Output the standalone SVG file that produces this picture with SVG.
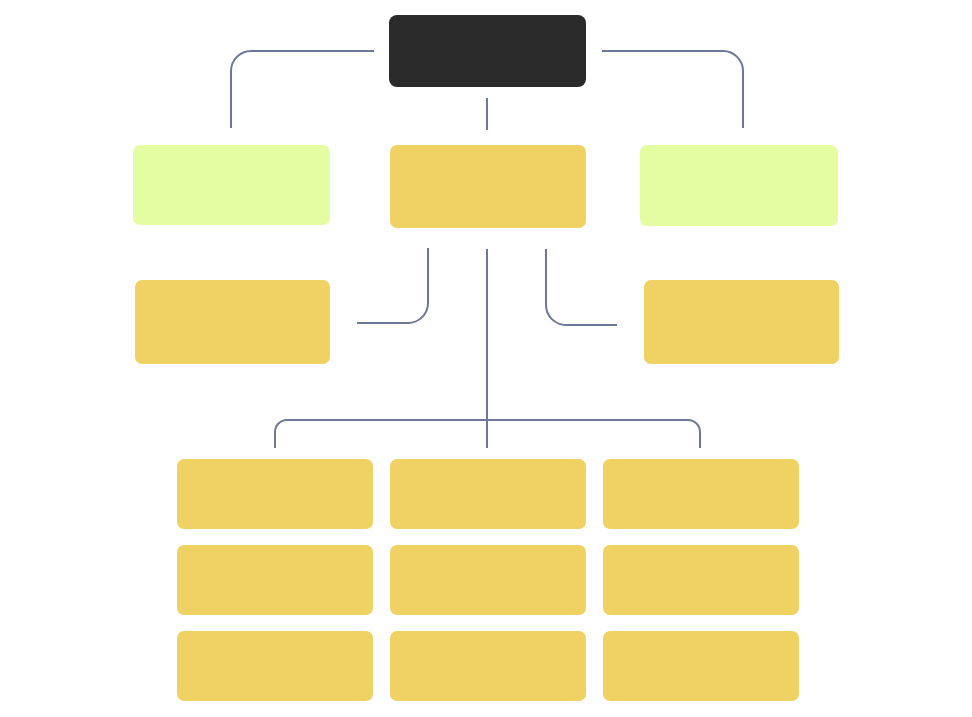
<svg xmlns="http://www.w3.org/2000/svg" width="972" height="717" viewBox="0 0 972 717">
<style>
.y{fill:#f0d264}
.g{fill:#e4fca2}
.d{fill:#2a2a2a}
.c{fill:none;stroke:#6b7898;stroke-width:2}
</style>
<rect width="972" height="717" fill="#ffffff"/>
<g id="connectors">
<path class="c" d="M374 51 H251 A20 20 0 0 0 231 71 V128"/>
<path class="c" d="M602 51 H723 A20 20 0 0 1 743 71 V128"/>
<path class="c" d="M487 98 V130"/>
<path class="c" d="M428 248 V303 A20 20 0 0 1 408 323 H357"/>
<path class="c" d="M546 249 V305 A20 20 0 0 0 566 325 H617"/>
<path class="c" d="M487 249 V448"/>
<path class="c" d="M275 448 V432 A12 12 0 0 1 287 420 H688 A12 12 0 0 1 700 432 V448"/>
</g>
<g id="root"><rect class="d" x="389" y="15" width="197" height="72" rx="8"/></g>
<g id="n-left"><rect class="g" x="133" y="145" width="197" height="80" rx="7"/></g>
<g id="n-center"><rect class="y" x="390" y="145" width="196" height="83" rx="7"/></g>
<g id="n-right"><rect class="g" x="640" y="145" width="198" height="81" rx="7"/></g>
<g id="n-mid-left"><rect class="y" x="135" y="280" width="195" height="84" rx="7"/></g>
<g id="n-mid-right"><rect class="y" x="644" y="280" width="195" height="84" rx="7"/></g>
<g id="g11"><rect class="y" x="177" y="459" width="196" height="70" rx="7"/></g>
<g id="g12"><rect class="y" x="390" y="459" width="196" height="70" rx="7"/></g>
<g id="g13"><rect class="y" x="603" y="459" width="196" height="70" rx="7"/></g>
<g id="g21"><rect class="y" x="177" y="545" width="196" height="70" rx="7"/></g>
<g id="g22"><rect class="y" x="390" y="545" width="196" height="70" rx="7"/></g>
<g id="g23"><rect class="y" x="603" y="545" width="196" height="70" rx="7"/></g>
<g id="g31"><rect class="y" x="177" y="631" width="196" height="70" rx="7"/></g>
<g id="g32"><rect class="y" x="390" y="631" width="196" height="70" rx="7"/></g>
<g id="g33"><rect class="y" x="603" y="631" width="196" height="70" rx="7"/></g>
</svg>
